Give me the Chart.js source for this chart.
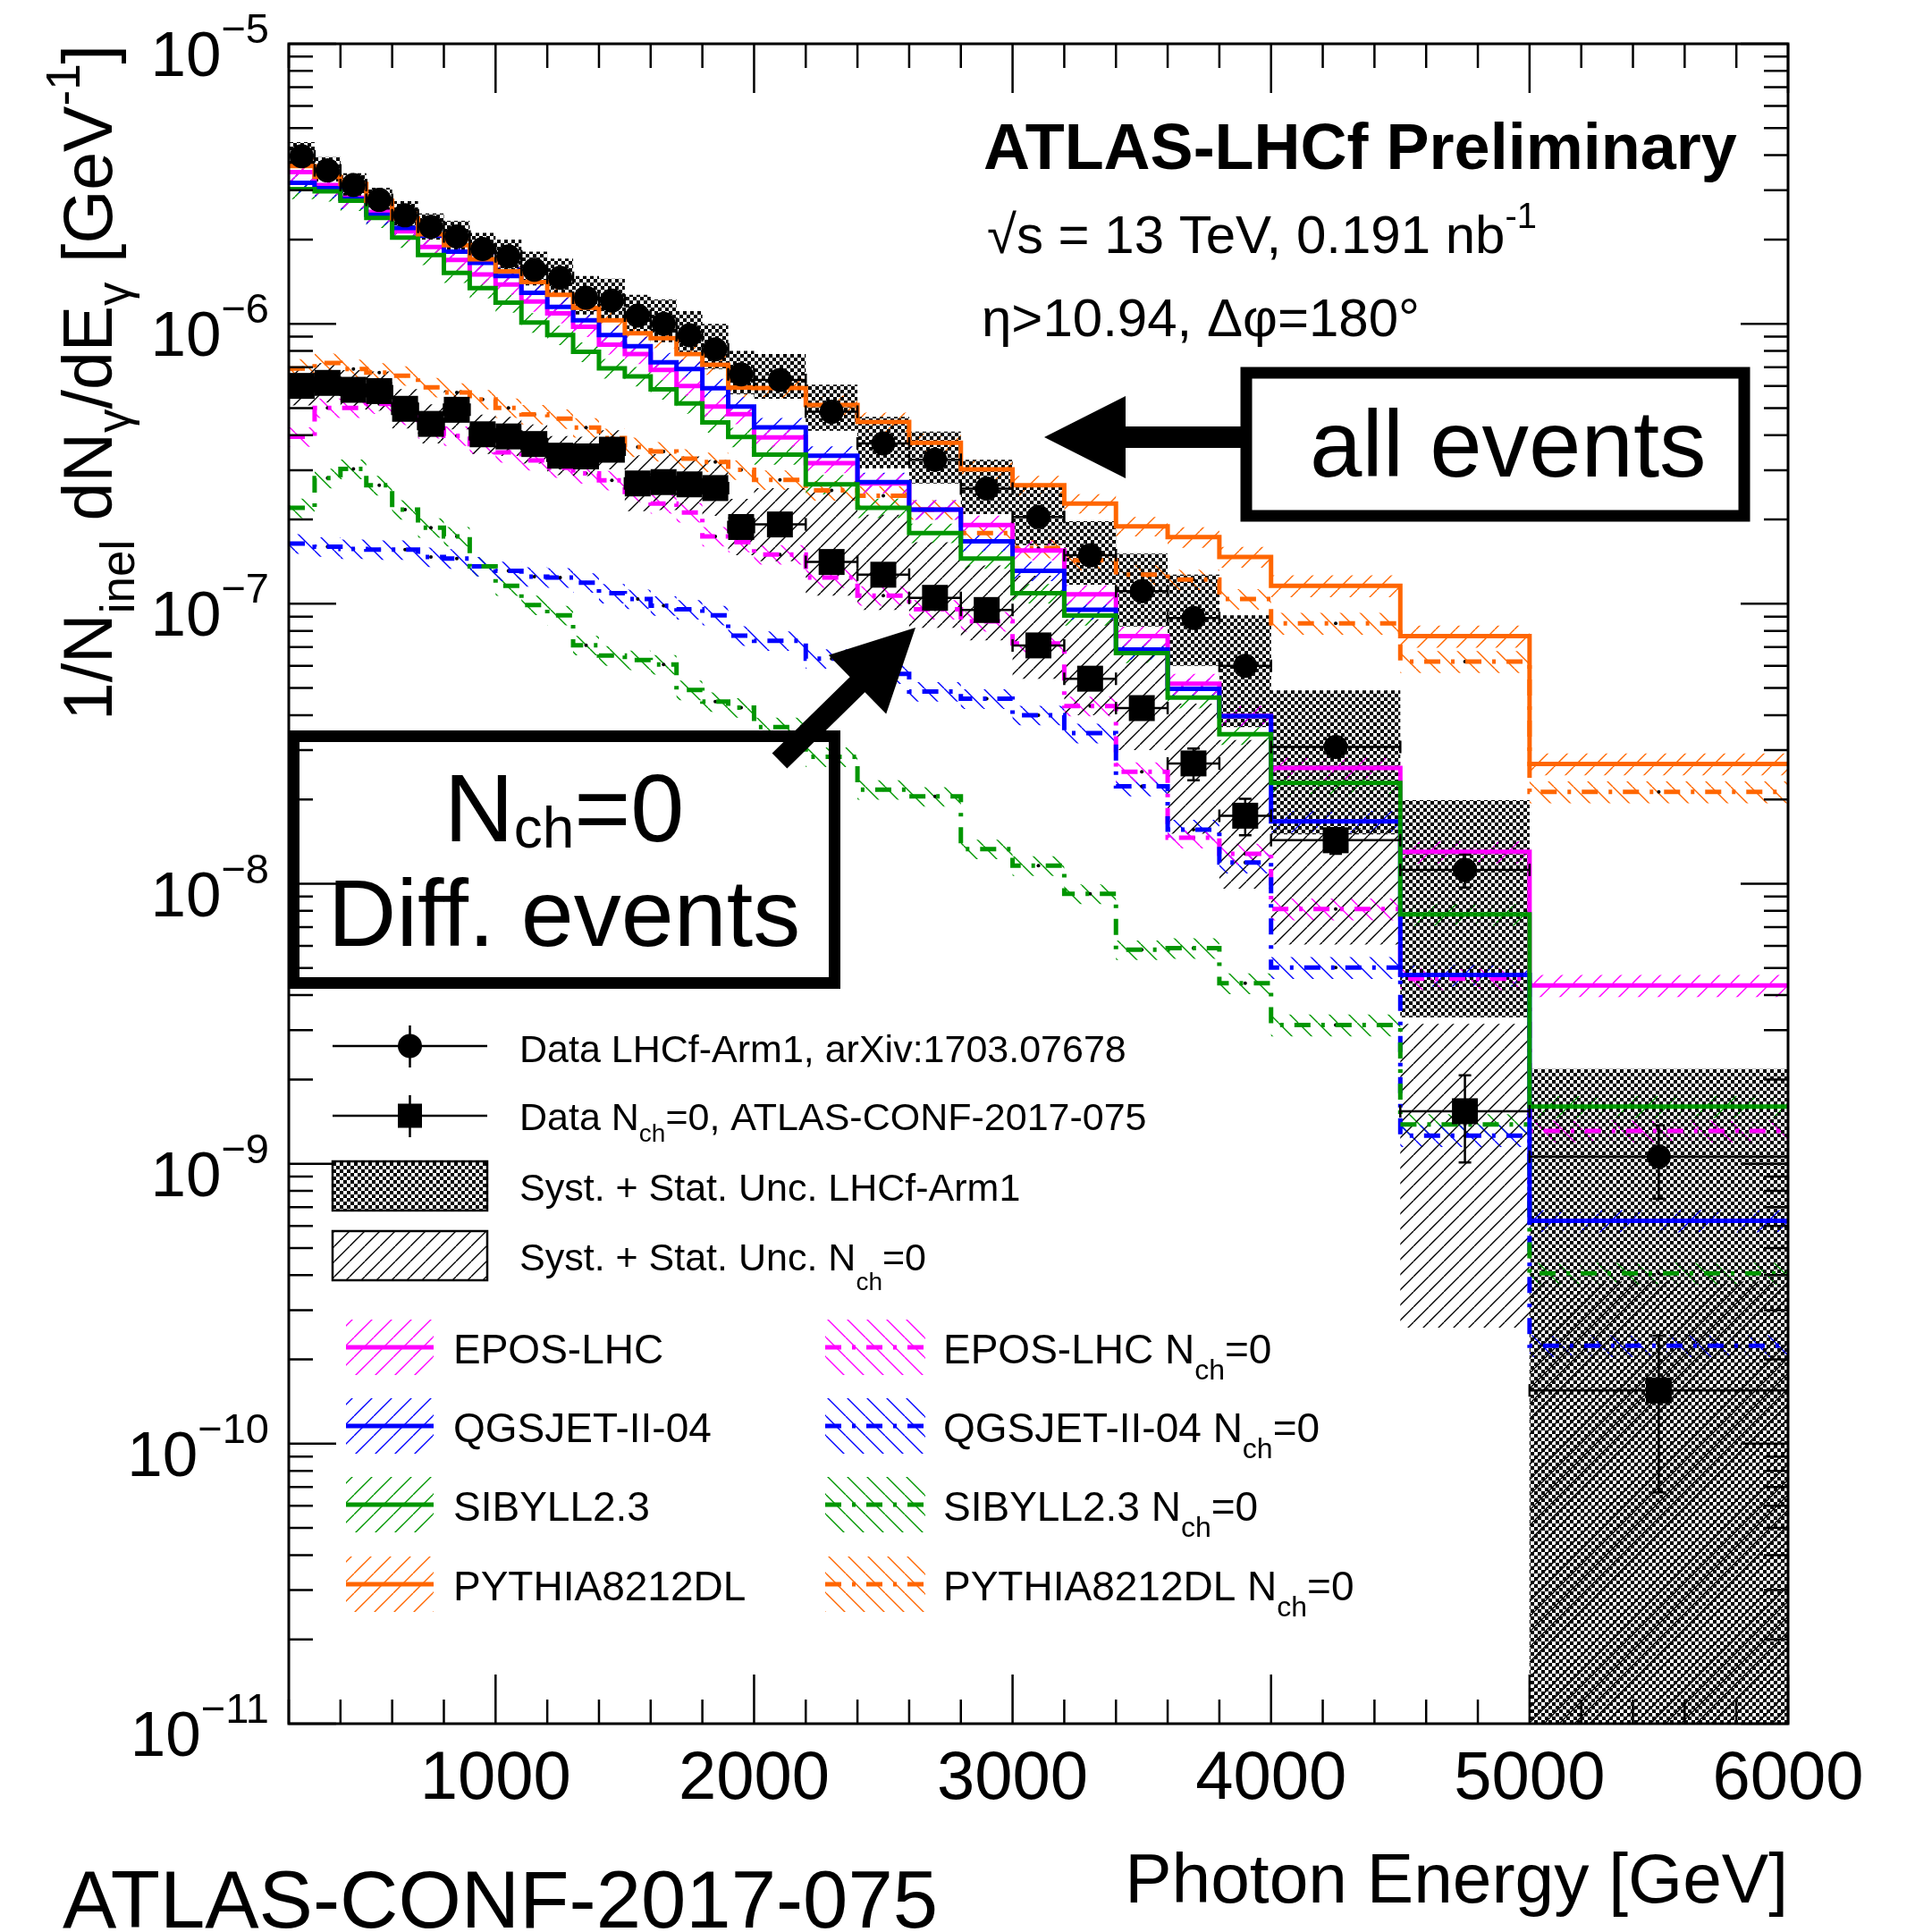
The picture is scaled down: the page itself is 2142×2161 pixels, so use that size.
<!DOCTYPE html>
<html lang="en">
<head>
<meta charset="utf-8">
<title>Photon energy spectrum, ATLAS-LHCf</title>
<script src="https://cdn.jsdelivr.net/npm/chart.js@4.4.1/dist/chart.umd.min.js"></script>
<style>
  html, body { margin: 0; padding: 0; background: #ffffff; }
  canvas { display: block; }
</style>
</head>
<body>
<canvas id="photonChart" width="2142" height="2161"></canvas>
<script>
const BIN_EDGES = [200, 300, 400, 500, 600, 700, 800, 900, 1000, 1100, 1200, 1300, 1400, 1500, 1600, 1700, 1800, 1900, 2000,
  2200, 2400, 2600, 2800, 3000, 3200, 3400, 3600, 3800, 4000, 4500, 5000, 6000];

// LHCf-Arm1, all events
const LHCF_DATA = [3.97e-6, 3.53e-6, 3.13e-6, 2.77e-6, 2.44e-6, 2.22e-6, 2.05e-6, 1.85e-6, 1.74e-6, 1.56e-6, 1.46e-6, 1.24e-6, 1.21e-6, 1.07e-6, 1.00e-6, 9.1e-7, 8.1e-7, 6.6e-7,
  6.3e-7, 4.85e-7, 3.74e-7, 3.27e-7, 2.58e-7, 2.04e-7, 1.49e-7, 1.11e-7, 8.9e-8, 6.0e-8, 3.08e-8, 1.12e-8, 1.06e-9];
const LHCF_STAT = [4e-8, 3.5e-8, 3e-8, 2.8e-8, 2.5e-8, 2.2e-8, 2e-8, 1.9e-8, 1.8e-8, 1.6e-8, 1.5e-8, 1.3e-8, 1.3e-8, 1.1e-8, 1.1e-8, 1e-8, 9e-9, 8e-9,
  6e-9, 5e-9, 4e-9, 4e-9, 3e-9, 3e-9, 2.5e-9, 2e-9, 2e-9, 1.5e-9, 1e-9, 1.5e-9, 3.1e-10];
const LHCF_BAND_HI = [4.45e-6, 3.94e-6, 3.45e-6, 3.06e-6, 2.74e-6, 2.48e-6, 2.33e-6, 2.11e-6, 2.0e-6, 1.81e-6, 1.71e-6, 1.48e-6, 1.45e-6, 1.27e-6, 1.22e-6, 1.11e-6, 1.0e-6, 8.0e-7,
  7.8e-7, 6.06e-7, 4.65e-7, 4.12e-7, 3.27e-7, 2.61e-7, 1.97e-7, 1.51e-7, 1.27e-7, 9.1e-8, 4.9e-8, 1.99e-8, 2.18e-9];
const LHCF_BAND_LO = [3.62e-6, 3.22e-6, 2.85e-6, 2.53e-6, 2.23e-6, 2.0e-6, 1.83e-6, 1.65e-6, 1.53e-6, 1.37e-6, 1.27e-6, 1.08e-6, 1.04e-6, 9.2e-7, 8.6e-7, 7.8e-7, 6.9e-7, 5.6e-7,
  5.4e-7, 4.15e-7, 3.05e-7, 2.69e-7, 2.09e-7, 1.62e-7, 1.17e-7, 8.3e-8, 6.0e-8, 3.63e-8, 1.5e-8, 3.33e-9, 1e-12];

// ATLAS Nch=0 (diffractive)
const NCH0_DATA = [6.0e-7, 6.15e-7, 5.81e-7, 5.75e-7, 4.97e-7, 4.39e-7, 4.93e-7, 4.03e-7, 3.96e-7, 3.72e-7, 3.38e-7, 3.36e-7, 3.55e-7, 2.69e-7, 2.72e-7, 2.67e-7, 2.59e-7, 1.88e-7,
  1.92e-7, 1.41e-7, 1.27e-7, 1.05e-7, 9.5e-8, 7.1e-8, 5.4e-8, 4.24e-8, 2.69e-8, 1.75e-8, 1.43e-8, 1.54e-9, 1.55e-10];
const NCH0_STAT = [1.2e-8, 1.2e-8, 1.1e-8, 1.1e-8, 1e-8, 9e-9, 1e-8, 8e-9, 8e-9, 7e-9, 7e-9, 7e-9, 7e-9, 6e-9, 6e-9, 6e-9, 6e-9, 4e-9,
  4e-9, 3e-9, 3e-9, 2.5e-9, 2.5e-9, 2e-9, 1.8e-9, 2e-9, 3.5e-9, 2.6e-9, 1.5e-9, 5.3e-10, 8.8e-11];
const NCH0_BAND_HI = [7.05e-7, 7.23e-7, 6.83e-7, 6.76e-7, 5.84e-7, 5.16e-7, 5.79e-7, 4.74e-7, 4.65e-7, 4.37e-7, 3.97e-7, 3.95e-7, 4.17e-7, 3.39e-7, 3.42e-7, 3.36e-7, 3.26e-7, 2.37e-7,
  2.59e-7, 2.51e-7, 2.08e-7, 1.66e-7, 1.37e-7, 1.26e-7, 8.8e-8, 6.7e-8, 4.4e-8, 3.26e-8, 1.58e-8, 3.16e-9, 3.8e-10];
const NCH0_BAND_LO = [5.11e-7, 5.23e-7, 4.94e-7, 4.89e-7, 4.23e-7, 3.74e-7, 4.2e-7, 3.43e-7, 3.37e-7, 3.17e-7, 2.88e-7, 2.86e-7, 3.02e-7, 2.14e-7, 2.16e-7, 2.12e-7, 2.06e-7, 1.49e-7,
  1.42e-7, 1.07e-7, 9.5e-8, 8.2e-8, 7.4e-8, 5.4e-8, 4.0e-8, 3.0e-8, 1.51e-8, 9.6e-9, 6.07e-9, 2.6e-10, 1e-12];

// models, all events
const EPOS_ALL = [3.48e-6, 3.13e-6, 2.82e-6, 2.51e-6, 2.14e-6, 1.88e-6, 1.69e-6, 1.50e-6, 1.38e-6, 1.20e-6, 1.09e-6, 9.75e-7, 8.43e-7, 7.80e-7, 6.84e-7, 6.0e-7, 5.06e-7, 4.76e-7,
  3.93e-7, 3.18e-7, 2.69e-7, 2.17e-7, 1.91e-7, 1.55e-7, 1.08e-7, 7.67e-8, 5.18e-8, 3.98e-8, 2.59e-8, 1.30e-8, 4.33e-9];
const QGSJET_ALL = [3.19e-6, 3.05e-6, 2.79e-6, 2.45e-6, 2.20e-6, 2.06e-6, 1.81e-6, 1.65e-6, 1.48e-6, 1.29e-6, 1.15e-6, 1.03e-6, 9.12e-7, 8.32e-7, 7.29e-7, 6.89e-7, 5.89e-7, 5.06e-7,
  4.27e-7, 3.38e-7, 2.72e-7, 2.17e-7, 1.67e-7, 1.31e-7, 9.53e-8, 6.86e-8, 4.97e-8, 3.97e-8, 1.67e-8, 4.72e-9, 6.25e-10];
const SIBYLL_ALL = [3.03e-6, 2.97e-6, 2.75e-6, 2.39e-6, 2.03e-6, 1.76e-6, 1.52e-6, 1.34e-6, 1.19e-6, 1.01e-6, 9.12e-7, 7.94e-7, 6.93e-7, 6.49e-7, 5.83e-7, 5.19e-7, 4.44e-7, 3.94e-7,
  3.41e-7, 2.67e-7, 2.20e-7, 1.79e-7, 1.45e-7, 1.09e-7, 9.08e-8, 6.67e-8, 4.62e-8, 3.42e-8, 2.29e-8, 7.78e-9, 1.60e-9];
const PYTHIA_ALL = [3.66e-6, 3.35e-6, 3.16e-6, 2.75e-6, 2.38e-6, 2.09e-6, 1.91e-6, 1.70e-6, 1.54e-6, 1.41e-6, 1.27e-6, 1.14e-6, 1.03e-6, 9.25e-7, 8.89e-7, 7.80e-7, 7.14e-7, 5.92e-7,
  5.90e-7, 5.13e-7, 4.46e-7, 3.76e-7, 3.02e-7, 2.65e-7, 2.28e-7, 1.89e-7, 1.73e-7, 1.47e-7, 1.16e-7, 7.66e-8, 2.68e-8];

// models, Nch=0
const EPOS_NCH0 = [3.95e-7, 5.01e-7, 5.01e-7, 5.18e-7, 4.72e-7, 4.23e-7, 3.98e-7, 3.72e-7, 3.47e-7, 3.25e-7, 3.06e-7, 2.92e-7, 2.76e-7, 2.51e-7, 2.28e-7, 2.12e-7, 1.74e-7, 1.66e-7,
  1.50e-7, 1.24e-7, 1.07e-7, 9.55e-8, 8.65e-8, 7.21e-8, 4.31e-8, 2.51e-8, 1.46e-8, 1.28e-8, 8.13e-9, 4.58e-9, 1.31e-9];
const QGSJET_NCH0 = [1.64e-7, 1.60e-7, 1.57e-7, 1.56e-7, 1.56e-7, 1.47e-7, 1.45e-7, 1.36e-7, 1.31e-7, 1.25e-7, 1.24e-7, 1.19e-7, 1.09e-7, 1.04e-7, 9.84e-8, 9.55e-8, 9.10e-8, 7.69e-8,
  7.38e-8, 6.37e-8, 5.62e-8, 4.86e-8, 4.58e-8, 4.0e-8, 3.45e-8, 2.23e-8, 1.56e-8, 1.19e-8, 5.02e-9, 1.26e-9, 2.24e-10];
const SIBYLL_NCH0 = [2.20e-7, 2.81e-7, 3.03e-7, 2.65e-7, 2.17e-7, 1.87e-7, 1.74e-7, 1.36e-7, 1.16e-7, 9.9e-8, 9.1e-8, 7.11e-8, 6.53e-8, 6.30e-8, 6.07e-8, 4.92e-8, 4.47e-8, 4.26e-8,
  3.63e-8, 2.84e-8, 2.17e-8, 2.05e-8, 1.33e-8, 1.16e-8, 9.2e-9, 5.81e-9, 5.89e-9, 4.41e-9, 3.13e-9, 1.38e-9, 4.06e-10];
const PYTHIA_NCH0 = [6.92e-7, 7.24e-7, 6.90e-7, 6.70e-7, 6.53e-7, 5.93e-7, 5.68e-7, 5.37e-7, 5.01e-7, 4.75e-7, 4.58e-7, 4.26e-7, 3.91e-7, 3.63e-7, 3.50e-7, 3.30e-7, 3.21e-7, 3.01e-7,
  2.77e-7, 2.54e-7, 2.43e-7, 2.17e-7, 1.79e-7, 1.58e-7, 1.43e-7, 1.27e-7, 1.22e-7, 1.04e-7, 8.51e-8, 6.22e-8, 2.13e-8];

// relative half-width of the MC hatched bands
const MC_BAND = [0.08, 0.08, 0.08, 0.08, 0.08, 0.08, 0.08, 0.08, 0.08, 0.08, 0.08, 0.08, 0.08, 0.08, 0.08, 0.08, 0.08, 0.08,
  0.08, 0.08, 0.08, 0.08, 0.08, 0.08, 0.08, 0.08, 0.085, 0.085, 0.09, 0.09, 0.09];

const MODEL_NAMES = ["EPOS-LHC", "QGSJET-II-04", "SIBYLL2.3", "PYTHIA8212DL"];
const MODEL_COLORS = ["#ff00ff", "#0000ff", "#009600", "#ff6600"];
const X_TICK_LABELS = [1000, 2000, 3000, 4000, 5000, 6000];
const Y_DECADES = [-5, -6, -7, -8, -9, -10, -11];

const FONT = '"Liberation Sans", Arial, Helvetica, sans-serif';
const DASH_DOT = [18, 12, 4, 12];

const canvas = document.getElementById("photonChart");
const ctx = canvas.getContext("2d");

function font(size, bold) {
  return (bold ? "bold " : "") + size + "px " + FONT;
}

function hatchPattern(color, dir, size, width) {
  let c = document.createElement("canvas");
  c.width = size;
  c.height = size;
  let g = c.getContext("2d");
  g.strokeStyle = color;
  g.lineWidth = width;
  g.beginPath();
  for (let k = -1; k <= 1; k++) {
    if (dir === "/") {
      g.moveTo(k * size, size);
      g.lineTo(k * size + size, 0);
    } else {
      g.moveTo(k * size, 0);
      g.lineTo(k * size + size, size);
    }
  }
  g.stroke();
  return ctx.createPattern(c, "repeat");
}

function checkerPattern() {
  let c = document.createElement("canvas");
  c.width = 8;
  c.height = 8;
  let g = c.getContext("2d");
  g.fillStyle = "#000";
  g.fillRect(0, 0, 4, 4);
  g.fillRect(4, 4, 4, 4);
  return ctx.createPattern(c, "repeat");
}

const patterns = {
  checker: checkerPattern(),
  data: hatchPattern("#000", "/", 17, 1.4),
  all: MODEL_COLORS.map(c => hatchPattern(c, "/", 22, 1.4)),
  nch0: MODEL_COLORS.map(c => hatchPattern(c, "\\", 22, 1.4))
};

function stepPoints(values) {
  let pts = values.map((v, i) => ({ x: BIN_EDGES[i], y: v }));
  pts.push({ x: BIN_EDGES[BIN_EDGES.length - 1], y: values[values.length - 1] });
  return pts;
}

function centerPoints(values) {
  return values.map((v, i) => ({ x: (BIN_EDGES[i] + BIN_EDGES[i + 1]) / 2, y: v }));
}

function bandPair(hi, lo, pattern, order) {
  let common = { stepped: true, borderWidth: 0, borderColor: "rgba(0,0,0,0)", pointRadius: 0, order: order };
  return [
    { ...common, data: stepPoints(hi), fill: "+1", backgroundColor: pattern },
    { ...common, data: stepPoints(lo), fill: false }
  ];
}

function modelLine(values, color, dashed) {
  return {
    data: stepPoints(values),
    stepped: true,
    borderColor: color,
    borderWidth: 5,
    borderDash: dashed ? DASH_DOT : [],
    borderCapStyle: "butt",
    borderJoinStyle: "miter",
    pointRadius: 0,
    fill: false,
    order: dashed ? 2 : 1
  };
}

const allModels = [EPOS_ALL, QGSJET_ALL, SIBYLL_ALL, PYTHIA_ALL];
const nch0Models = [EPOS_NCH0, QGSJET_NCH0, SIBYLL_NCH0, PYTHIA_NCH0];

let datasets = [
  {
    data: centerPoints(LHCF_DATA), showLine: false, pointStyle: "circle", pointRadius: 13.5,
    pointBackgroundColor: "#000", pointBorderColor: "#000", pointBorderWidth: 0, errors: LHCF_STAT, order: 0
  },
  {
    data: centerPoints(NCH0_DATA), showLine: false, pointStyle: "rect", pointRadius: 20.5,
    pointBackgroundColor: "#000", pointBorderColor: "#000", pointBorderWidth: 0, errors: NCH0_STAT, order: 0
  }
];
// later index is drawn first, so PYTHIA ends up on top
for (let i = 3; i >= 0; i--) datasets.push(modelLine(allModels[i], MODEL_COLORS[i], false));
for (let i = 3; i >= 0; i--) datasets.push(modelLine(nch0Models[i], MODEL_COLORS[i], true));
nch0Models.forEach(vals => {
  datasets.push({ data: centerPoints(vals), showLine: false, pointRadius: 2, pointBackgroundColor: "#000", pointBorderWidth: 0, order: 3 });
});
datasets.push(...bandPair(LHCF_BAND_HI, LHCF_BAND_LO, patterns.checker, 4));
datasets.push(...bandPair(NCH0_BAND_HI, NCH0_BAND_LO, patterns.data, 5));
allModels.forEach((vals, i) => {
  datasets.push(...bandPair(vals.map((v, j) => v * (1 + MC_BAND[j])), vals.map((v, j) => v * (1 - MC_BAND[j])), patterns.all[i], 6));
});
nch0Models.forEach((vals, i) => {
  datasets.push(...bandPair(vals.map((v, j) => v * (1 + MC_BAND[j])), vals.map((v, j) => v * (1 - MC_BAND[j])), patterns.nch0[i], 6));
});

function drawRich(c, parts, x, y, align) {
  let width = 0;
  parts.forEach(p => {
    c.font = p.font;
    p.w = c.measureText(p.text).width;
    width += p.w;
  });
  let cx = align === "right" ? x - width : align === "center" ? x - width / 2 : x;
  parts.forEach(p => {
    c.font = p.font;
    c.fillText(p.text, cx, y + (p.dy || 0));
    cx += p.w;
  });
}

function drawArrow(c, tx, ty, sx, sy) {
  let len = Math.hypot(sx - tx, sy - ty);
  let ux = (sx - tx) / len, uy = (sy - ty) / len;
  let px = -uy, py = ux;
  let bx = tx + ux * 91, by = ty + uy * 91;
  c.beginPath();
  c.moveTo(tx, ty);
  c.lineTo(bx + px * 46, by + py * 46);
  c.lineTo(bx + px * 12, by + py * 12);
  c.lineTo(sx + px * 12, sy + py * 12);
  c.lineTo(sx - px * 12, sy - py * 12);
  c.lineTo(bx - px * 12, by - py * 12);
  c.lineTo(bx - px * 46, by - py * 46);
  c.closePath();
  c.fill();
}

const errorBarPlugin = {
  id: "errorBars",
  beforeDatasetDraw(chart, args) {
    let ds = chart.data.datasets[args.index];
    if (!ds.errors) return;
    let { ctx: c, chartArea: a, scales: { x, y } } = chart;
    c.save();
    c.beginPath();
    c.rect(a.left, a.top, a.right - a.left, a.bottom - a.top);
    c.clip();
    c.strokeStyle = "#000";
    c.lineWidth = 2.5;
    c.beginPath();
    ds.data.forEach((p, i) => {
      let xl = x.getPixelForValue(BIN_EDGES[i]);
      let xr = x.getPixelForValue(BIN_EDGES[i + 1]);
      let xc = x.getPixelForValue(p.x);
      let yc = y.getPixelForValue(p.y);
      let yt = y.getPixelForValue(p.y + ds.errors[i]);
      let yb = y.getPixelForValue(Math.max(p.y - ds.errors[i], 1e-14));
      c.moveTo(xl, yc); c.lineTo(xr, yc);
      c.moveTo(xl, yc - 7); c.lineTo(xl, yc + 7);
      c.moveTo(xr, yc - 7); c.lineTo(xr, yc + 7);
      c.moveTo(xc, yt); c.lineTo(xc, yb);
      c.moveTo(xc - 7, yt); c.lineTo(xc + 7, yt);
      c.moveTo(xc - 7, yb); c.lineTo(xc + 7, yb);
    });
    c.stroke();
    c.restore();
  }
};

const framePlugin = {
  id: "rootFrame",
  afterDatasetsDraw(chart) {
    let { ctx: c, chartArea: a, scales: { x, y } } = chart;
    c.save();
    c.strokeStyle = "#000";
    c.lineWidth = 2.5;
    c.beginPath();
    for (let e = -11; e <= -5; e++) {
      for (let k = 1; k <= 9; k++) {
        let v = k * Math.pow(10, e);
        if (v > 1.0001e-5) break;
        let py = y.getPixelForValue(v);
        let len = k === 1 ? 53 : 27;
        c.moveTo(a.left, py); c.lineTo(a.left + len, py);
        c.moveTo(a.right, py); c.lineTo(a.right - len, py);
      }
    }
    for (let v = 200; v <= 6000; v += 200) {
      let px = x.getPixelForValue(v);
      let len = v % 1000 === 0 ? 55 : 27;
      c.moveTo(px, a.bottom); c.lineTo(px, a.bottom - len);
      c.moveTo(px, a.top); c.lineTo(px, a.top + len);
    }
    c.stroke();
    c.lineWidth = 3;
    c.strokeRect(a.left, a.top, a.right - a.left, a.bottom - a.top);
    c.restore();
  }
};

function drawLegend(c) {
  c.save();
  c.fillStyle = "#000";
  c.strokeStyle = "#000";
  c.lineWidth = 2.5;
  c.beginPath();
  c.moveTo(372, 1170); c.lineTo(545, 1170);
  c.moveTo(458.5, 1147); c.lineTo(458.5, 1194);
  c.moveTo(372, 1248); c.lineTo(545, 1248);
  c.moveTo(458.5, 1225); c.lineTo(458.5, 1272);
  c.stroke();
  c.beginPath();
  c.arc(458.5, 1170, 13.5, 0, Math.PI * 2);
  c.fill();
  c.fillRect(445, 1234.5, 27, 27);
  c.fillStyle = patterns.checker;
  c.fillRect(372, 1299, 173, 55);
  c.fillStyle = patterns.data;
  c.fillRect(372, 1377, 173, 55);
  c.strokeRect(372, 1299, 173, 55);
  c.strokeRect(372, 1377, 173, 55);

  c.fillStyle = "#000";
  drawRich(c, [{ text: "Data LHCf-Arm1, arXiv:1703.07678", font: font(43) }], 581, 1188, "left");
  drawRich(c, [
    { text: "Data N", font: font(43) },
    { text: "ch", font: font(28), dy: 13 },
    { text: "=0, ATLAS-CONF-2017-075", font: font(43) }
  ], 581, 1264, "left");
  drawRich(c, [{ text: "Syst. + Stat. Unc. LHCf-Arm1", font: font(43) }], 581, 1343, "left");
  drawRich(c, [
    { text: "Syst. + Stat. Unc. N", font: font(43) },
    { text: "ch", font: font(28), dy: 22 },
    { text: "=0", font: font(43) }
  ], 581, 1421, "left");

  const rows = [1507, 1595, 1683, 1772];
  MODEL_NAMES.forEach((name, i) => {
    let yc = rows[i];
    c.fillStyle = patterns.all[i];
    c.fillRect(387, yc - 31, 98, 62);
    c.fillStyle = patterns.nch0[i];
    c.fillRect(923, yc - 31, 112, 62);
    c.strokeStyle = MODEL_COLORS[i];
    c.lineWidth = 5;
    c.lineCap = "butt";
    c.setLineDash([]);
    c.beginPath(); c.moveTo(387, yc); c.lineTo(485, yc); c.stroke();
    c.setLineDash(DASH_DOT);
    c.beginPath(); c.moveTo(923, yc); c.lineTo(1035, yc); c.stroke();
    c.setLineDash([]);
    c.fillStyle = "#000";
    drawRich(c, [{ text: name, font: font(46) }], 507, yc + 18, "left");
    drawRich(c, [
      { text: name + " N", font: font(46) },
      { text: "ch", font: font(32), dy: 18 },
      { text: "=0", font: font(46) }
    ], 1055, yc + 18, "left");
  });
  c.restore();
}

const labelPlugin = {
  id: "labels",
  afterDraw(chart) {
    let { ctx: c, scales: { x, y } } = chart;
    c.save();
    c.fillStyle = "#000";
    c.strokeStyle = "#000";
    c.textBaseline = "alphabetic";
    c.textAlign = "left";

    Y_DECADES.forEach(e => {
      let py = y.getPixelForValue(Math.pow(10, e));
      drawRich(c, [
        { text: "10", font: font(71) },
        { text: "\u2212" + Math.abs(e), font: font(47), dy: -37 }
      ], 301, py + 36, "right");
    });
    X_TICK_LABELS.forEach(v => {
      drawRich(c, [{ text: String(v), font: font(76) }], x.getPixelForValue(v), 2012, "center");
    });

    drawRich(c, [{ text: "Photon Energy [GeV]", font: font(78.5) }], 2000, 2128, "right");
    drawRich(c, [{ text: "ATLAS-CONF-2017-075", font: font(90.5) }], 70, 2156, "left");

    c.save();
    c.translate(125, 50);
    c.rotate(-Math.PI / 2);
    drawRich(c, [
      { text: "1/N", font: font(77) },
      { text: "inel", font: font(53), dy: 25 },
      { text: " dN", font: font(77) },
      { text: "\u03b3", font: font(53), dy: 20 },
      { text: "/dE", font: font(77) },
      { text: "\u03b3", font: font(53), dy: 20 },
      { text: " [GeV", font: font(77) },
      { text: "-1", font: font(53), dy: -36 },
      { text: "]", font: font(77) }
    ], 0, 0, "right");
    c.restore();

    drawRich(c, [{ text: "ATLAS-LHCf Preliminary", font: font(72, true) }], 1100, 189, "left");
    drawRich(c, [
      { text: "\u221as = 13 TeV, 0.191 nb", font: font(60) },
      { text: "-1", font: font(40), dy: -28 }
    ], 1104, 283, "left");
    drawRich(c, [{ text: "\u03b7>10.94, \u0394\u03c6=180\u00b0", font: font(60) }], 1098, 376, "left");

    c.lineWidth = 13;
    c.strokeRect(1394, 417, 557, 160);
    drawRich(c, [{ text: "all events", font: font(105) }], 1465, 533, "left");
    drawArrow(c, 1168, 489, 1390, 489);

    c.strokeRect(328.5, 823.5, 605, 276);
    drawRich(c, [
      { text: "N", font: font(108) },
      { text: "ch", font: font(64), dy: 7 },
      { text: "=0", font: font(108) }
    ], 631, 941, "center");
    drawRich(c, [{ text: "Diff. events", font: font(106) }], 631, 1058, "center");
    drawArrow(c, 1024, 702, 872, 851);

    drawLegend(c);
    c.restore();
  }
};

new Chart(canvas, {
  type: "line",
  data: { datasets: datasets },
  options: {
    responsive: false,
    animation: false,
    devicePixelRatio: 1,
    events: [],
    layout: { padding: { left: 323, right: 142, top: 49, bottom: 233 } },
    scales: {
      x: { type: "linear", min: 200, max: 6000, display: false },
      y: { type: "logarithmic", min: 1e-11, max: 1e-5, display: false }
    },
    plugins: {
      legend: { display: false },
      tooltip: { enabled: false },
      filler: { propagate: false }
    }
  },
  plugins: [errorBarPlugin, framePlugin, labelPlugin]
});
</script>
</body>
</html>
